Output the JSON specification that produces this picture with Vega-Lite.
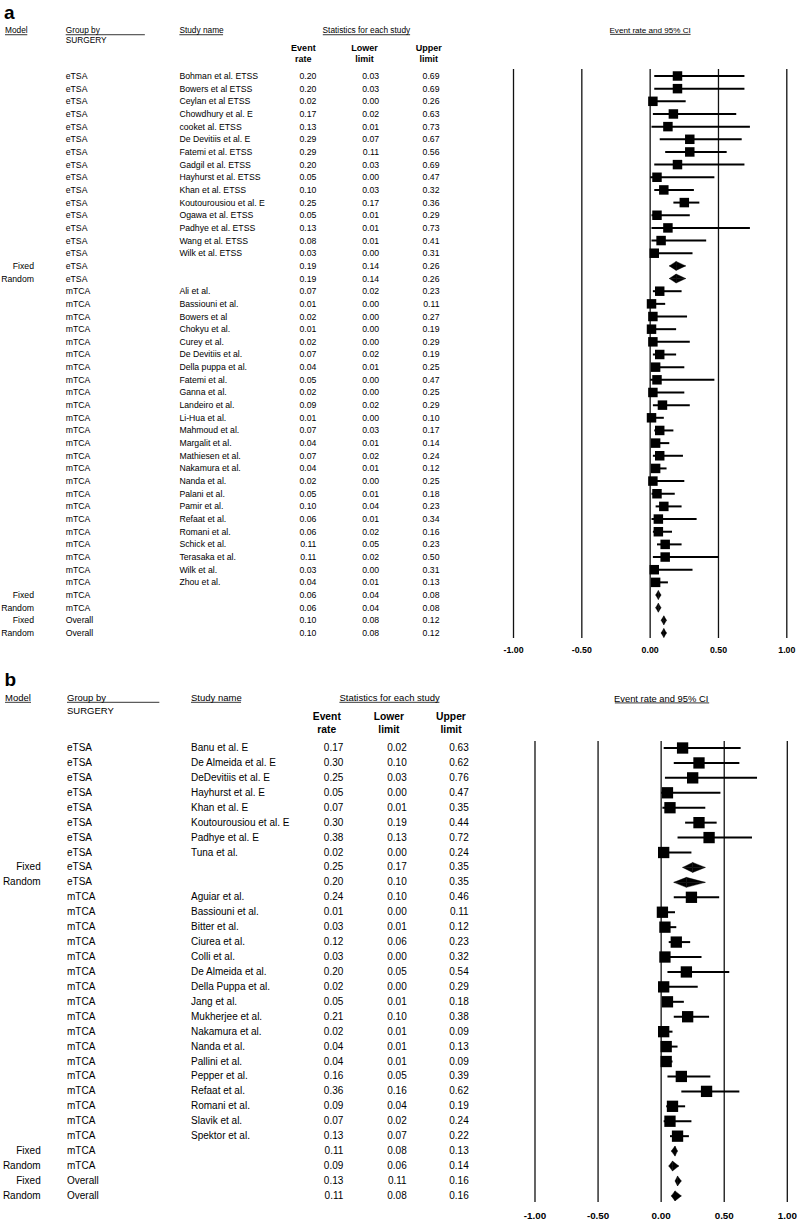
{
"$schema": "https://vega.github.io/schema/vega-lite/v6.json",
"padding": 0,
"spacing": 7,
"config": {"view": {"stroke": null}, "font": "Liberation Sans", "text": {"font": "Liberation Sans", "color": "black"}, "axis": {"labelFont": "Liberation Sans"}},
"datasets": {
"a": [
{"model":"","group":"eTSA","study":"Bohman et al. ETSS","er":0.20,"ll":0.03,"ul":0.69,"row":0,"kind":"study"},
{"model":"","group":"eTSA","study":"Bowers et al ETSS","er":0.20,"ll":0.03,"ul":0.69,"row":1,"kind":"study"},
{"model":"","group":"eTSA","study":"Ceylan et al ETSS","er":0.02,"ll":0.00,"ul":0.26,"row":2,"kind":"study"},
{"model":"","group":"eTSA","study":"Chowdhury et al. E","er":0.17,"ll":0.02,"ul":0.63,"row":3,"kind":"study"},
{"model":"","group":"eTSA","study":"cooket al. ETSS","er":0.13,"ll":0.01,"ul":0.73,"row":4,"kind":"study"},
{"model":"","group":"eTSA","study":"De Devitiis et al. E","er":0.29,"ll":0.07,"ul":0.67,"row":5,"kind":"study"},
{"model":"","group":"eTSA","study":"Fatemi et al. ETSS","er":0.29,"ll":0.11,"ul":0.56,"row":6,"kind":"study"},
{"model":"","group":"eTSA","study":"Gadgil et al. ETSS","er":0.20,"ll":0.03,"ul":0.69,"row":7,"kind":"study"},
{"model":"","group":"eTSA","study":"Hayhurst et al. ETSS","er":0.05,"ll":0.00,"ul":0.47,"row":8,"kind":"study"},
{"model":"","group":"eTSA","study":"Khan et al. ETSS","er":0.10,"ll":0.03,"ul":0.32,"row":9,"kind":"study"},
{"model":"","group":"eTSA","study":"Koutourousiou et al. E","er":0.25,"ll":0.17,"ul":0.36,"row":10,"kind":"study"},
{"model":"","group":"eTSA","study":"Ogawa et al. ETSS","er":0.05,"ll":0.01,"ul":0.29,"row":11,"kind":"study"},
{"model":"","group":"eTSA","study":"Padhye et al. ETSS","er":0.13,"ll":0.01,"ul":0.73,"row":12,"kind":"study"},
{"model":"","group":"eTSA","study":"Wang et al. ETSS","er":0.08,"ll":0.01,"ul":0.41,"row":13,"kind":"study"},
{"model":"","group":"eTSA","study":"Wilk et al. ETSS","er":0.03,"ll":0.00,"ul":0.31,"row":14,"kind":"study"},
{"model":"Fixed","group":"eTSA","study":"","er":0.19,"ll":0.14,"ul":0.26,"row":15,"kind":"summary"},
{"model":"Random","group":"eTSA","study":"","er":0.19,"ll":0.14,"ul":0.26,"row":16,"kind":"summary"},
{"model":"","group":"mTCA","study":"Ali et al.","er":0.07,"ll":0.02,"ul":0.23,"row":17,"kind":"study"},
{"model":"","group":"mTCA","study":"Bassiouni et al.","er":0.01,"ll":0.00,"ul":0.11,"row":18,"kind":"study"},
{"model":"","group":"mTCA","study":"Bowers et al","er":0.02,"ll":0.00,"ul":0.27,"row":19,"kind":"study"},
{"model":"","group":"mTCA","study":"Chokyu et al.","er":0.01,"ll":0.00,"ul":0.19,"row":20,"kind":"study"},
{"model":"","group":"mTCA","study":"Curey et al.","er":0.02,"ll":0.00,"ul":0.29,"row":21,"kind":"study"},
{"model":"","group":"mTCA","study":"De Devitiis et al.","er":0.07,"ll":0.02,"ul":0.19,"row":22,"kind":"study"},
{"model":"","group":"mTCA","study":"Della puppa et al.","er":0.04,"ll":0.01,"ul":0.25,"row":23,"kind":"study"},
{"model":"","group":"mTCA","study":"Fatemi et al.","er":0.05,"ll":0.00,"ul":0.47,"row":24,"kind":"study"},
{"model":"","group":"mTCA","study":"Ganna et al.","er":0.02,"ll":0.00,"ul":0.25,"row":25,"kind":"study"},
{"model":"","group":"mTCA","study":"Landeiro et al.","er":0.09,"ll":0.02,"ul":0.29,"row":26,"kind":"study"},
{"model":"","group":"mTCA","study":"Li-Hua et al.","er":0.01,"ll":0.00,"ul":0.10,"row":27,"kind":"study"},
{"model":"","group":"mTCA","study":"Mahmoud et al.","er":0.07,"ll":0.03,"ul":0.17,"row":28,"kind":"study"},
{"model":"","group":"mTCA","study":"Margalit et al.","er":0.04,"ll":0.01,"ul":0.14,"row":29,"kind":"study"},
{"model":"","group":"mTCA","study":"Mathiesen et al.","er":0.07,"ll":0.02,"ul":0.24,"row":30,"kind":"study"},
{"model":"","group":"mTCA","study":"Nakamura et al.","er":0.04,"ll":0.01,"ul":0.12,"row":31,"kind":"study"},
{"model":"","group":"mTCA","study":"Nanda et al.","er":0.02,"ll":0.00,"ul":0.25,"row":32,"kind":"study"},
{"model":"","group":"mTCA","study":"Palani et al.","er":0.05,"ll":0.01,"ul":0.18,"row":33,"kind":"study"},
{"model":"","group":"mTCA","study":"Pamir et al.","er":0.10,"ll":0.04,"ul":0.23,"row":34,"kind":"study"},
{"model":"","group":"mTCA","study":"Refaat et al.","er":0.06,"ll":0.01,"ul":0.34,"row":35,"kind":"study"},
{"model":"","group":"mTCA","study":"Romani et al.","er":0.06,"ll":0.02,"ul":0.16,"row":36,"kind":"study"},
{"model":"","group":"mTCA","study":"Schick et al.","er":0.11,"ll":0.05,"ul":0.23,"row":37,"kind":"study"},
{"model":"","group":"mTCA","study":"Terasaka et al.","er":0.11,"ll":0.02,"ul":0.50,"row":38,"kind":"study"},
{"model":"","group":"mTCA","study":"Wilk et al.","er":0.03,"ll":0.00,"ul":0.31,"row":39,"kind":"study"},
{"model":"","group":"mTCA","study":"Zhou et al.","er":0.04,"ll":0.01,"ul":0.13,"row":40,"kind":"study"},
{"model":"Fixed","group":"mTCA","study":"","er":0.06,"ll":0.04,"ul":0.08,"row":41,"kind":"summary"},
{"model":"Random","group":"mTCA","study":"","er":0.06,"ll":0.04,"ul":0.08,"row":42,"kind":"summary"},
{"model":"Fixed","group":"Overall","study":"","er":0.10,"ll":0.08,"ul":0.12,"row":43,"kind":"summary"},
{"model":"Random","group":"Overall","study":"","er":0.10,"ll":0.08,"ul":0.12,"row":44,"kind":"summary"}
],
"b": [
{"model":"","group":"eTSA","study":"Banu et al. E","er":0.17,"ll":0.02,"ul":0.63,"row":0,"kind":"study"},
{"model":"","group":"eTSA","study":"De Almeida et al. E","er":0.30,"ll":0.10,"ul":0.62,"row":1,"kind":"study"},
{"model":"","group":"eTSA","study":"DeDevitiis et al. E","er":0.25,"ll":0.03,"ul":0.76,"row":2,"kind":"study"},
{"model":"","group":"eTSA","study":"Hayhurst et al. E","er":0.05,"ll":0.00,"ul":0.47,"row":3,"kind":"study"},
{"model":"","group":"eTSA","study":"Khan et al. E","er":0.07,"ll":0.01,"ul":0.35,"row":4,"kind":"study"},
{"model":"","group":"eTSA","study":"Koutourousiou et al. E","er":0.30,"ll":0.19,"ul":0.44,"row":5,"kind":"study"},
{"model":"","group":"eTSA","study":"Padhye et al. E","er":0.38,"ll":0.13,"ul":0.72,"row":6,"kind":"study"},
{"model":"","group":"eTSA","study":"Tuna et al.","er":0.02,"ll":0.00,"ul":0.24,"row":7,"kind":"study"},
{"model":"Fixed","group":"eTSA","study":"","er":0.25,"ll":0.17,"ul":0.35,"row":8,"kind":"summary"},
{"model":"Random","group":"eTSA","study":"","er":0.20,"ll":0.10,"ul":0.35,"row":9,"kind":"summary"},
{"model":"","group":"mTCA","study":"Aguiar et al.","er":0.24,"ll":0.10,"ul":0.46,"row":10,"kind":"study"},
{"model":"","group":"mTCA","study":"Bassiouni et al.","er":0.01,"ll":0.00,"ul":0.11,"row":11,"kind":"study"},
{"model":"","group":"mTCA","study":"Bitter et al.","er":0.03,"ll":0.01,"ul":0.12,"row":12,"kind":"study"},
{"model":"","group":"mTCA","study":"Ciurea et al.","er":0.12,"ll":0.06,"ul":0.23,"row":13,"kind":"study"},
{"model":"","group":"mTCA","study":"Colli et al.","er":0.03,"ll":0.00,"ul":0.32,"row":14,"kind":"study"},
{"model":"","group":"mTCA","study":"De Almeida et al.","er":0.20,"ll":0.05,"ul":0.54,"row":15,"kind":"study"},
{"model":"","group":"mTCA","study":"Della Puppa et al.","er":0.02,"ll":0.00,"ul":0.29,"row":16,"kind":"study"},
{"model":"","group":"mTCA","study":"Jang et al.","er":0.05,"ll":0.01,"ul":0.18,"row":17,"kind":"study"},
{"model":"","group":"mTCA","study":"Mukherjee et al.","er":0.21,"ll":0.10,"ul":0.38,"row":18,"kind":"study"},
{"model":"","group":"mTCA","study":"Nakamura et al.","er":0.02,"ll":0.01,"ul":0.09,"row":19,"kind":"study"},
{"model":"","group":"mTCA","study":"Nanda et al.","er":0.04,"ll":0.01,"ul":0.13,"row":20,"kind":"study"},
{"model":"","group":"mTCA","study":"Pallini et al.","er":0.04,"ll":0.01,"ul":0.09,"row":21,"kind":"study"},
{"model":"","group":"mTCA","study":"Pepper et al.","er":0.16,"ll":0.05,"ul":0.39,"row":22,"kind":"study"},
{"model":"","group":"mTCA","study":"Refaat et al.","er":0.36,"ll":0.16,"ul":0.62,"row":23,"kind":"study"},
{"model":"","group":"mTCA","study":"Romani et al.","er":0.09,"ll":0.04,"ul":0.19,"row":24,"kind":"study"},
{"model":"","group":"mTCA","study":"Slavik et al.","er":0.07,"ll":0.02,"ul":0.24,"row":25,"kind":"study"},
{"model":"","group":"mTCA","study":"Spektor et al.","er":0.13,"ll":0.07,"ul":0.22,"row":26,"kind":"study"},
{"model":"Fixed","group":"mTCA","study":"","er":0.11,"ll":0.08,"ul":0.13,"row":27,"kind":"summary"},
{"model":"Random","group":"mTCA","study":"","er":0.09,"ll":0.06,"ul":0.14,"row":28,"kind":"summary"},
{"model":"Fixed","group":"Overall","study":"","er":0.13,"ll":0.11,"ul":0.16,"row":29,"kind":"summary"},
{"model":"Random","group":"Overall","study":"","er":0.11,"ll":0.08,"ul":0.16,"row":30,"kind":"summary"}
],
"ticks": [
{"v": -1, "label": "-1.00"}, {"v": -0.5, "label": "-0.50"}, {"v": 0, "label": "0.00"}, {"v": 0.5, "label": "0.50"}, {"v": 1, "label": "1.00"}
]
},
"vconcat": [
{
"bounds": "flush",
"spacing": 31.7,
"hconcat": [
{"width": 34, "height": 638, "layer": [
 {"data": {"name": "a"}, "mark": {"type": "text", "align": "right", "baseline": "middle", "fontSize": 8.7},
  "encoding": {"x": {"datum": 1, "type": "quantitative", "scale": {"domain": [0, 1], "nice": false, "zero": false}, "axis": null},
   "y": {"field": "row", "type": "quantitative", "scale": {"domain": [-6.003, 44.395], "reverse": true, "nice": false, "zero": false}, "axis": null},
   "text": {"field": "model"}}},
 {"data": {"values": [{}]}, "mark": {"type": "text", "align": "left", "baseline": "alphabetic", "fontSize": 19, "fontWeight": "bold"},
  "encoding": {"x": {"datum": 0.12, "axis": null}, "y": {"datum": -4.5, "axis": null}, "text": {"value": "a"}}},
 {"data": {"values": [{}]}, "mark": {"type": "text", "align": "left", "baseline": "middle", "fontSize": 8.3},
  "encoding": {"x": {"datum": 0.147, "axis": null}, "y": {"datum": -3.58, "axis": null}, "text": {"value": "Model"}}},
 {"data": {"values": [{}]}, "mark": {"type": "rule", "color": "black", "strokeWidth": 0.8},
  "encoding": {"x": {"datum": 0.147, "axis": null}, "x2": {"datum": 0.803}, "y": {"datum": -3.26, "axis": null}}}
]},
{"width": 81.6, "height": 638, "layer": [
 {"data": {"name": "a"}, "mark": {"type": "text", "align": "left", "baseline": "middle", "fontSize": 8.7},
  "encoding": {"x": {"datum": 0, "type": "quantitative", "scale": {"domain": [0, 1], "nice": false, "zero": false}, "axis": null},
   "y": {"field": "row", "type": "quantitative", "scale": {"domain": [-6.003, 44.395], "reverse": true, "nice": false, "zero": false}, "axis": null},
   "text": {"field": "group"}}},
 {"data": {"values": [{}]}, "mark": {"type": "text", "align": "left", "baseline": "middle", "fontSize": 8.3},
  "encoding": {"x": {"datum": 0, "axis": null}, "y": {"datum": -3.58, "axis": null}, "text": {"value": "Group by"}}},
 {"data": {"values": [{}]}, "mark": {"type": "rule", "color": "black", "strokeWidth": 0.8},
  "encoding": {"x": {"datum": 0, "axis": null}, "x2": {"datum": 0.97}, "y": {"datum": -3.26, "axis": null}}},
 {"data": {"values": [{}]}, "mark": {"type": "text", "align": "left", "baseline": "middle", "fontSize": 8.3},
  "encoding": {"x": {"datum": 0, "axis": null}, "y": {"datum": -2.79, "axis": null}, "text": {"value": "SURGERY"}}}
]},
{"width": 71, "height": 638, "layer": [
 {"data": {"name": "a"}, "mark": {"type": "text", "align": "left", "baseline": "middle", "fontSize": 8.7},
  "encoding": {"x": {"datum": 0, "type": "quantitative", "scale": {"domain": [0, 1], "nice": false, "zero": false}, "axis": null},
   "y": {"field": "row", "type": "quantitative", "scale": {"domain": [-6.003, 44.395], "reverse": true, "nice": false, "zero": false}, "axis": null},
   "text": {"field": "study"}}},
 {"data": {"values": [{}]}, "mark": {"type": "text", "align": "left", "baseline": "middle", "fontSize": 8.3},
  "encoding": {"x": {"datum": 0, "axis": null}, "y": {"datum": -3.58, "axis": null}, "text": {"value": "Study name"}}},
 {"data": {"values": [{}]}, "mark": {"type": "rule", "color": "black", "strokeWidth": 0.8},
  "encoding": {"x": {"datum": 0, "axis": null}, "x2": {"datum": 0.615}, "y": {"datum": -3.26, "axis": null}}}
]},
{"width": 34.3, "height": 638, "layer": [
 {"data": {"name": "a"}, "mark": {"type": "text", "align": "right", "baseline": "middle", "fontSize": 8.7},
  "encoding": {"x": {"datum": 1, "type": "quantitative", "scale": {"domain": [0, 1], "nice": false, "zero": false}, "axis": null},
   "y": {"field": "row", "type": "quantitative", "scale": {"domain": [-6.003, 44.395], "reverse": true, "nice": false, "zero": false}, "axis": null},
   "text": {"field": "er", "type": "quantitative", "format": ".2f"}}},
 {"data": {"values": [{}]}, "mark": {"type": "text", "align": "center", "baseline": "middle", "fontSize": 9, "fontWeight": "bold"},
  "encoding": {"x": {"datum": 0.62, "axis": null}, "y": {"datum": -2.19, "axis": null}, "text": {"value": "Event"}}},
 {"data": {"values": [{}]}, "mark": {"type": "text", "align": "center", "baseline": "middle", "fontSize": 9, "fontWeight": "bold"},
  "encoding": {"x": {"datum": 0.62, "axis": null}, "y": {"datum": -1.37, "axis": null}, "text": {"value": "rate"}}}
]},
{"width": 30.3, "height": 638, "layer": [
 {"data": {"name": "a"}, "mark": {"type": "text", "align": "right", "baseline": "middle", "fontSize": 8.7},
  "encoding": {"x": {"datum": 1, "type": "quantitative", "scale": {"domain": [0, 1], "nice": false, "zero": false}, "axis": null},
   "y": {"field": "row", "type": "quantitative", "scale": {"domain": [-6.003, 44.395], "reverse": true, "nice": false, "zero": false}, "axis": null},
   "text": {"field": "ll", "type": "quantitative", "format": ".2f"}}},
 {"data": {"values": [{}]}, "mark": {"type": "text", "align": "center", "baseline": "middle", "fontSize": 8.3},
  "encoding": {"x": {"datum": 0.58, "axis": null}, "y": {"datum": -3.58, "axis": null}, "text": {"value": "Statistics for each study"}}},
 {"data": {"values": [{}]}, "mark": {"type": "rule", "color": "black", "strokeWidth": 0.8},
  "encoding": {"x": {"datum": -0.858, "axis": null}, "x2": {"datum": 2.023}, "y": {"datum": -3.26, "axis": null}}},
 {"data": {"values": [{}]}, "mark": {"type": "text", "align": "center", "baseline": "middle", "fontSize": 9, "fontWeight": "bold"},
  "encoding": {"x": {"datum": 0.52, "axis": null}, "y": {"datum": -2.19, "axis": null}, "text": {"value": "Lower"}}},
 {"data": {"values": [{}]}, "mark": {"type": "text", "align": "center", "baseline": "middle", "fontSize": 9, "fontWeight": "bold"},
  "encoding": {"x": {"datum": 0.52, "axis": null}, "y": {"datum": -1.37, "axis": null}, "text": {"value": "limit"}}}
]},
{"width": 28, "height": 638, "layer": [
 {"data": {"name": "a"}, "mark": {"type": "text", "align": "right", "baseline": "middle", "fontSize": 8.7},
  "encoding": {"x": {"datum": 1, "type": "quantitative", "scale": {"domain": [0, 1], "nice": false, "zero": false}, "axis": null},
   "y": {"field": "row", "type": "quantitative", "scale": {"domain": [-6.003, 44.395], "reverse": true, "nice": false, "zero": false}, "axis": null},
   "text": {"field": "ul", "type": "quantitative", "format": ".2f"}}},
 {"data": {"values": [{}]}, "mark": {"type": "text", "align": "center", "baseline": "middle", "fontSize": 9, "fontWeight": "bold"},
  "encoding": {"x": {"datum": 0.618, "axis": null}, "y": {"datum": -2.19, "axis": null}, "text": {"value": "Upper"}}},
 {"data": {"values": [{}]}, "mark": {"type": "text", "align": "center", "baseline": "middle", "fontSize": 9, "fontWeight": "bold"},
  "encoding": {"x": {"datum": 0.618, "axis": null}, "y": {"datum": -1.37, "axis": null}, "text": {"value": "limit"}}}
]},
{"width": 315.6, "height": 638, "resolve": {"scale": {"y": "independent"}}, "layer": [
 {"layer": [
  {"data": {"name": "ticks"},
   "mark": {"type": "rule", "color": "#111111", "strokeWidth": 1.3},
   "encoding": {"x": {"field": "v", "type": "quantitative", "scale": {"domain": [-1.3096, 1], "nice": false, "zero": false}, "axis": null},
    "y": {"datum": -0.55, "type": "quantitative", "scale": {"domain": [-6.003, 44.395], "reverse": true, "nice": false, "zero": false}, "axis": null},
    "y2": {"datum": 44.395}}},
  {"data": {"name": "ticks"},
   "mark": {"type": "text", "align": "center", "baseline": "middle", "fontSize": 8.8, "fontWeight": "bold"},
   "encoding": {"x": {"field": "v", "type": "quantitative", "axis": null}, "y": {"datum": 45.34, "axis": null}, "text": {"field": "label"}}},
  {"data": {"values": [{}]}, "mark": {"type": "text", "align": "center", "baseline": "middle", "fontSize": 8.1},
   "encoding": {"x": {"datum": 0, "axis": null}, "y": {"datum": -3.55, "axis": null}, "text": {"value": "Event rate and 95% CI"}}},
  {"data": {"values": [{}]}, "mark": {"type": "rule", "color": "black", "strokeWidth": 0.8},
   "encoding": {"x": {"datum": -0.293, "axis": null}, "x2": {"datum": 0.296}, "y": {"datum": -3.29, "axis": null}}}
 ]},
 {"data": {"name": "a"}, "resolve": {"scale": {"yOffset": "independent"}}, "layer": [
  {"transform": [{"filter": "datum.kind === 'study'"}], "mark": {"type": "rule", "color": "black", "strokeWidth": 2},
   "encoding": {"x": {"field": "ll", "type": "quantitative", "axis": null}, "x2": {"field": "ul"},
    "y": {"field": "row", "type": "ordinal", "scale": {"type": "point", "domain": [-6,-5,-4,-3,-2,-1,0,1,2,3,4,5,6,7,8,9,10,11,12,13,14,15,16,17,18,19,20,21,22,23,24,25,26,27,28,29,30,31,32,33,34,35,36,37,38,39,40,41,42,43,44], "padding": 0.199, "align": 0.0075}, "axis": null}}},
  {"transform": [{"filter": "datum.kind === 'study'"}], "mark": {"type": "square", "color": "black", "size": 90, "opacity": 1},
   "encoding": {"x": {"field": "er", "type": "quantitative", "axis": null}, "y": {"field": "row", "type": "ordinal", "axis": null}}},
  {"transform": [{"filter": "datum.kind === 'summary'"}, {"fold": ["ll", "er"]}], "mark": {"type": "area", "color": "black", "stroke": "black", "strokeWidth": 0.4, "orient": "vertical"},
   "encoding": {"x": {"field": "value", "type": "quantitative", "stack": null, "axis": null}, "y": {"field": "row", "type": "ordinal", "axis": null}, "y2": {"field": "row"},
    "yOffset": {"field": "key", "type": "nominal", "scale": {"type": "point", "domain": ["ll", "er"], "range": [0, -4.5], "padding": 0}}, "detail": {"field": "row", "type": "ordinal"}}},
  {"transform": [{"filter": "datum.kind === 'summary'"}, {"fold": ["er", "ul"]}], "mark": {"type": "area", "color": "black", "stroke": "black", "strokeWidth": 0.4, "orient": "vertical"},
   "encoding": {"x": {"field": "value", "type": "quantitative", "stack": null, "axis": null}, "y": {"field": "row", "type": "ordinal", "axis": null}, "y2": {"field": "row"},
    "yOffset": {"field": "key", "type": "nominal", "scale": {"type": "point", "domain": ["er", "ul"], "range": [-4.5, 0], "padding": 0}}, "detail": {"field": "row", "type": "ordinal"}}},
  {"transform": [{"filter": "datum.kind === 'summary'"}, {"fold": ["ll", "er"]}], "mark": {"type": "area", "color": "black", "stroke": "black", "strokeWidth": 0.4, "orient": "vertical"},
   "encoding": {"x": {"field": "value", "type": "quantitative", "stack": null, "axis": null}, "y": {"field": "row", "type": "ordinal", "axis": null}, "y2": {"field": "row"},
    "yOffset": {"field": "key", "type": "nominal", "scale": {"type": "point", "domain": ["ll", "er"], "range": [0, 4.5], "padding": 0}}, "detail": {"field": "row", "type": "ordinal"}}},
  {"transform": [{"filter": "datum.kind === 'summary'"}, {"fold": ["er", "ul"]}], "mark": {"type": "area", "color": "black", "stroke": "black", "strokeWidth": 0.4, "orient": "vertical"},
   "encoding": {"x": {"field": "value", "type": "quantitative", "stack": null, "axis": null}, "y": {"field": "row", "type": "ordinal", "axis": null}, "y2": {"field": "row"},
    "yOffset": {"field": "key", "type": "nominal", "scale": {"type": "point", "domain": ["er", "ul"], "range": [4.5, 0], "padding": 0}}, "detail": {"field": "row", "type": "ordinal"}}}
 ]}
]}
]
},
{
"bounds": "flush",
"spacing": 26,
"hconcat": [
{"width": 40.7, "height": 540, "layer": [
 {"data": {"name": "b"}, "mark": {"type": "text", "align": "right", "baseline": "middle", "fontSize": 10},
  "encoding": {"x": {"datum": 1, "type": "quantitative", "scale": {"domain": [0, 1], "nice": false, "zero": false}, "axis": null},
   "y": {"field": "row", "type": "quantitative", "scale": {"domain": [-5.76, 30.41], "reverse": true, "nice": false, "zero": false}, "axis": null},
   "text": {"field": "model"}}},
 {"data": {"values": [{}]}, "mark": {"type": "text", "align": "left", "baseline": "alphabetic", "fontSize": 19, "fontWeight": "bold"},
  "encoding": {"x": {"datum": 0.11, "axis": null}, "y": {"datum": -4.15, "axis": null}, "text": {"value": "b"}}},
 {"data": {"values": [{}]}, "mark": {"type": "text", "align": "left", "baseline": "middle", "fontSize": 9.5},
  "encoding": {"x": {"datum": 0.123, "axis": null}, "y": {"datum": -3.33, "axis": null}, "text": {"value": "Model"}}},
 {"data": {"values": [{}]}, "mark": {"type": "rule", "color": "black", "strokeWidth": 0.8},
  "encoding": {"x": {"datum": 0.123, "axis": null}, "x2": {"datum": 0.762}, "y": {"datum": -3.06, "axis": null}}}
]},
{"width": 97.3, "height": 540, "layer": [
 {"data": {"name": "b"}, "mark": {"type": "text", "align": "left", "baseline": "middle", "fontSize": 10},
  "encoding": {"x": {"datum": 0, "type": "quantitative", "scale": {"domain": [0, 1], "nice": false, "zero": false}, "axis": null},
   "y": {"field": "row", "type": "quantitative", "scale": {"domain": [-5.76, 30.41], "reverse": true, "nice": false, "zero": false}, "axis": null},
   "text": {"field": "group"}}},
 {"data": {"values": [{}]}, "mark": {"type": "text", "align": "left", "baseline": "middle", "fontSize": 9.5},
  "encoding": {"x": {"datum": 0, "axis": null}, "y": {"datum": -3.33, "axis": null}, "text": {"value": "Group by"}}},
 {"data": {"values": [{}]}, "mark": {"type": "rule", "color": "black", "strokeWidth": 0.8},
  "encoding": {"x": {"datum": 0, "axis": null}, "x2": {"datum": 0.949}, "y": {"datum": -3.06, "axis": null}}},
 {"data": {"values": [{}]}, "mark": {"type": "text", "align": "left", "baseline": "middle", "fontSize": 9.5},
  "encoding": {"x": {"datum": 0, "axis": null}, "y": {"datum": -2.48, "axis": null}, "text": {"value": "SURGERY"}}}
]},
{"width": 90, "height": 540, "layer": [
 {"data": {"name": "b"}, "mark": {"type": "text", "align": "left", "baseline": "middle", "fontSize": 10},
  "encoding": {"x": {"datum": 0, "type": "quantitative", "scale": {"domain": [0, 1], "nice": false, "zero": false}, "axis": null},
   "y": {"field": "row", "type": "quantitative", "scale": {"domain": [-5.76, 30.41], "reverse": true, "nice": false, "zero": false}, "axis": null},
   "text": {"field": "study"}}},
 {"data": {"values": [{}]}, "mark": {"type": "text", "align": "left", "baseline": "middle", "fontSize": 9.5},
  "encoding": {"x": {"datum": 0, "axis": null}, "y": {"datum": -3.33, "axis": null}, "text": {"value": "Study name"}}},
 {"data": {"values": [{}]}, "mark": {"type": "rule", "color": "black", "strokeWidth": 0.8},
  "encoding": {"x": {"datum": 0, "axis": null}, "x2": {"datum": 0.556}, "y": {"datum": -3.06, "axis": null}}}
]},
{"width": 36.3, "height": 540, "layer": [
 {"data": {"name": "b"}, "mark": {"type": "text", "align": "right", "baseline": "middle", "fontSize": 10},
  "encoding": {"x": {"datum": 1, "type": "quantitative", "scale": {"domain": [0, 1], "nice": false, "zero": false}, "axis": null},
   "y": {"field": "row", "type": "quantitative", "scale": {"domain": [-5.76, 30.41], "reverse": true, "nice": false, "zero": false}, "axis": null},
   "text": {"field": "er", "type": "quantitative", "format": ".2f"}}},
 {"data": {"values": [{}]}, "mark": {"type": "text", "align": "center", "baseline": "middle", "fontSize": 10.3, "fontWeight": "bold"},
  "encoding": {"x": {"datum": 0.545, "axis": null}, "y": {"datum": -2.06, "axis": null}, "text": {"value": "Event"}}},
 {"data": {"values": [{}]}, "mark": {"type": "text", "align": "center", "baseline": "middle", "fontSize": 10.3, "fontWeight": "bold"},
  "encoding": {"x": {"datum": 0.545, "axis": null}, "y": {"datum": -1.23, "axis": null}, "text": {"value": "rate"}}}
]},
{"width": 36.7, "height": 540, "layer": [
 {"data": {"name": "b"}, "mark": {"type": "text", "align": "right", "baseline": "middle", "fontSize": 10},
  "encoding": {"x": {"datum": 1, "type": "quantitative", "scale": {"domain": [0, 1], "nice": false, "zero": false}, "axis": null},
   "y": {"field": "row", "type": "quantitative", "scale": {"domain": [-5.76, 30.41], "reverse": true, "nice": false, "zero": false}, "axis": null},
   "text": {"field": "ll", "type": "quantitative", "format": ".2f"}}},
 {"data": {"values": [{}]}, "mark": {"type": "text", "align": "center", "baseline": "middle", "fontSize": 9.5},
  "encoding": {"x": {"datum": 0.534, "axis": null}, "y": {"datum": -3.33, "axis": null}, "text": {"value": "Statistics for each study"}}},
 {"data": {"values": [{}]}, "mark": {"type": "rule", "color": "black", "strokeWidth": 0.8},
  "encoding": {"x": {"datum": -0.834, "axis": null}, "x2": {"datum": 1.891}, "y": {"datum": -3.06, "axis": null}}},
 {"data": {"values": [{}]}, "mark": {"type": "text", "align": "center", "baseline": "middle", "fontSize": 10.3, "fontWeight": "bold"},
  "encoding": {"x": {"datum": 0.515, "axis": null}, "y": {"datum": -2.06, "axis": null}, "text": {"value": "Lower"}}},
 {"data": {"values": [{}]}, "mark": {"type": "text", "align": "center", "baseline": "middle", "fontSize": 10.3, "fontWeight": "bold"},
  "encoding": {"x": {"datum": 0.515, "axis": null}, "y": {"datum": -1.23, "axis": null}, "text": {"value": "limit"}}}
]},
{"width": 35.7, "height": 540, "layer": [
 {"data": {"name": "b"}, "mark": {"type": "text", "align": "right", "baseline": "middle", "fontSize": 10},
  "encoding": {"x": {"datum": 1, "type": "quantitative", "scale": {"domain": [0, 1], "nice": false, "zero": false}, "axis": null},
   "y": {"field": "row", "type": "quantitative", "scale": {"domain": [-5.76, 30.41], "reverse": true, "nice": false, "zero": false}, "axis": null},
   "text": {"field": "ul", "type": "quantitative", "format": ".2f"}}},
 {"data": {"values": [{}]}, "mark": {"type": "text", "align": "center", "baseline": "middle", "fontSize": 10.3, "fontWeight": "bold"},
  "encoding": {"x": {"datum": 0.504, "axis": null}, "y": {"datum": -2.06, "axis": null}, "text": {"value": "Upper"}}},
 {"data": {"values": [{}]}, "mark": {"type": "text", "align": "center", "baseline": "middle", "fontSize": 10.3, "fontWeight": "bold"},
  "encoding": {"x": {"datum": 0.504, "axis": null}, "y": {"datum": -1.23, "axis": null}, "text": {"value": "limit"}}}
]},
{"width": 292.3, "height": 540, "resolve": {"scale": {"y": "independent"}}, "layer": [
 {"layer": [
  {"data": {"name": "ticks"},
   "mark": {"type": "rule", "color": "#111111", "strokeWidth": 1.3},
   "encoding": {"x": {"field": "v", "type": "quantitative", "scale": {"domain": [-1.317, 1], "nice": false, "zero": false}, "axis": null},
    "y": {"datum": -0.47, "type": "quantitative", "scale": {"domain": [-5.76, 30.41], "reverse": true, "nice": false, "zero": false}, "axis": null},
    "y2": {"datum": 30.41}}},
  {"data": {"name": "ticks"},
   "mark": {"type": "text", "align": "center", "baseline": "middle", "fontSize": 9.8, "fontWeight": "bold"},
   "encoding": {"x": {"field": "v", "type": "quantitative", "axis": null}, "y": {"datum": 31.35, "axis": null}, "text": {"field": "label"}}},
  {"data": {"values": [{}]}, "mark": {"type": "text", "align": "center", "baseline": "middle", "fontSize": 9.4},
   "encoding": {"x": {"datum": 0, "axis": null}, "y": {"datum": -3.3, "axis": null}, "text": {"value": "Event rate and 95% CI"}}},
  {"data": {"values": [{}]}, "mark": {"type": "rule", "color": "black", "strokeWidth": 0.8},
   "encoding": {"x": {"datum": -0.367, "axis": null}, "x2": {"datum": 0.381}, "y": {"datum": -3.02, "axis": null}}}
 ]},
 {"data": {"name": "b"}, "resolve": {"scale": {"yOffset": "independent"}}, "layer": [
  {"transform": [{"filter": "datum.kind === 'study'"}], "mark": {"type": "rule", "color": "black", "strokeWidth": 2},
   "encoding": {"x": {"field": "ll", "type": "quantitative", "axis": null}, "x2": {"field": "ul"},
    "y": {"field": "row", "type": "ordinal", "scale": {"type": "point", "domain": [-5,-4,-3,-2,-1,0,1,2,3,4,5,6,7,8,9,10,11,12,13,14,15,16,17,18,19,20,21,22,23,24,25,26,27,28,29,30], "padding": 0.585, "align": 0.65}, "axis": null}}},
  {"transform": [{"filter": "datum.kind === 'study'"}], "mark": {"type": "square", "color": "black", "size": 128, "opacity": 1},
   "encoding": {"x": {"field": "er", "type": "quantitative", "axis": null}, "y": {"field": "row", "type": "ordinal", "axis": null}}},
  {"transform": [{"filter": "datum.kind === 'summary'"}, {"fold": ["ll", "er"]}], "mark": {"type": "area", "color": "black", "stroke": "black", "strokeWidth": 0.4, "orient": "vertical"},
   "encoding": {"x": {"field": "value", "type": "quantitative", "stack": null, "axis": null}, "y": {"field": "row", "type": "ordinal", "axis": null}, "y2": {"field": "row"},
    "yOffset": {"field": "key", "type": "nominal", "scale": {"type": "point", "domain": ["ll", "er"], "range": [0, -5], "padding": 0}}, "detail": {"field": "row", "type": "ordinal"}}},
  {"transform": [{"filter": "datum.kind === 'summary'"}, {"fold": ["er", "ul"]}], "mark": {"type": "area", "color": "black", "stroke": "black", "strokeWidth": 0.4, "orient": "vertical"},
   "encoding": {"x": {"field": "value", "type": "quantitative", "stack": null, "axis": null}, "y": {"field": "row", "type": "ordinal", "axis": null}, "y2": {"field": "row"},
    "yOffset": {"field": "key", "type": "nominal", "scale": {"type": "point", "domain": ["er", "ul"], "range": [-5, 0], "padding": 0}}, "detail": {"field": "row", "type": "ordinal"}}},
  {"transform": [{"filter": "datum.kind === 'summary'"}, {"fold": ["ll", "er"]}], "mark": {"type": "area", "color": "black", "stroke": "black", "strokeWidth": 0.4, "orient": "vertical"},
   "encoding": {"x": {"field": "value", "type": "quantitative", "stack": null, "axis": null}, "y": {"field": "row", "type": "ordinal", "axis": null}, "y2": {"field": "row"},
    "yOffset": {"field": "key", "type": "nominal", "scale": {"type": "point", "domain": ["ll", "er"], "range": [0, 5], "padding": 0}}, "detail": {"field": "row", "type": "ordinal"}}},
  {"transform": [{"filter": "datum.kind === 'summary'"}, {"fold": ["er", "ul"]}], "mark": {"type": "area", "color": "black", "stroke": "black", "strokeWidth": 0.4, "orient": "vertical"},
   "encoding": {"x": {"field": "value", "type": "quantitative", "stack": null, "axis": null}, "y": {"field": "row", "type": "ordinal", "axis": null}, "y2": {"field": "row"},
    "yOffset": {"field": "key", "type": "nominal", "scale": {"type": "point", "domain": ["er", "ul"], "range": [5, 0], "padding": 0}}, "detail": {"field": "row", "type": "ordinal"}}}
 ]}
]}
]
}
]
}
